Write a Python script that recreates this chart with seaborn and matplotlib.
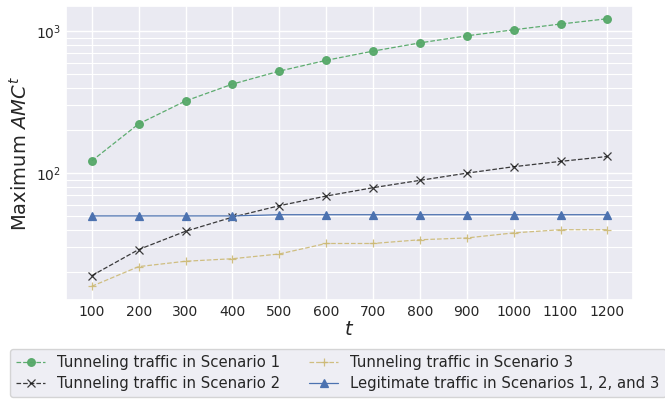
import matplotlib
matplotlib.use("Agg")
import matplotlib.pyplot as plt
import seaborn as sns
import pandas as pd

# x values (t)
t_values = [100, 200, 300, 400, 500, 600, 700, 800, 900, 1000, 1100, 1200]

# Maximum AMC^t per series
scenario1 = [122, 222, 322, 423, 522, 622, 722, 825, 925, 1020, 1120, 1220]
scenario2 = [19, 29, 39, 49, 59, 69, 79, 89, 100, 111, 121, 131]
scenario3 = [16, 22, 24, 25, 27, 32, 32, 34, 35, 38, 40, 40]
legitimate = [50, 50, 50, 50, 51, 51, 51, 51, 51, 51, 51, 51]

labels = [
    "Tunneling traffic in Scenario 1",
    "Tunneling traffic in Scenario 2",
    "Tunneling traffic in Scenario 3",
    "Legitimate traffic in Scenarios 1, 2, and 3",
]

sns.set_theme(style="darkgrid", color_codes=True)
plt.rcParams["font.family"] = ["DejaVu Sans"]
plt.rcParams["axes.edgecolor"] = "white"

fig = plt.figure(figsize=(6.65, 3.99), dpi=100)
ax = fig.add_axes([0.0992, 0.248, 0.853, 0.737])

green = sns.color_palette("deep")[2]
blue = sns.color_palette("deep")[0]
yellow = "#CCB974"

series = [
    (scenario1, labels[0], dict(color=green, marker="o", linestyle="--", markersize=5.5,
                                markeredgecolor=green, alpha=0.95)),
    (scenario2, labels[1], dict(color="k", marker="x", linestyle="--", markersize=6,
                                markeredgecolor="k", alpha=0.85)),
    (scenario3, labels[2], dict(color=yellow, marker="+", linestyle="--", markersize=6,
                                markeredgecolor=yellow, alpha=0.9)),
    (legitimate, labels[3], dict(color=blue, marker="^", linestyle="-", markersize=6,
                                 markeredgecolor=blue)),
]

for values, label, kw in series:
    df = pd.DataFrame({"t": t_values, "amc": values})
    sns.lineplot(data=df, x="t", y="amc", ax=ax, label=label,
                 linewidth=0.9, markeredgewidth=0.9, **kw)

ax.set_yscale("log")
ax.set_ylim(12.8, 1500)
ax.set_xticks(t_values)
ax.tick_params(axis="both", which="both", labelsize=10, pad=3.5, length=0)
ax.grid(True, which="minor", color="white", linewidth=0.8)
ax.grid(True, which="major", color="white", linewidth=1.0)

ax.set_xlabel("$t$", fontsize=14, labelpad=1)
ax.set_ylabel("Maximum $AMC^t$", fontsize=14, labelpad=4)

ax.legend(loc="upper left", bbox_to_anchor=(-0.099, -0.167), borderaxespad=0,
          ncol=2, fontsize=10.7, frameon=True, facecolor="#EAEAF2",
          edgecolor="#cccccc", handlelength=2.0, columnspacing=1.9,
          labelspacing=0.4)

fig.savefig("out.png", dpi=100)
